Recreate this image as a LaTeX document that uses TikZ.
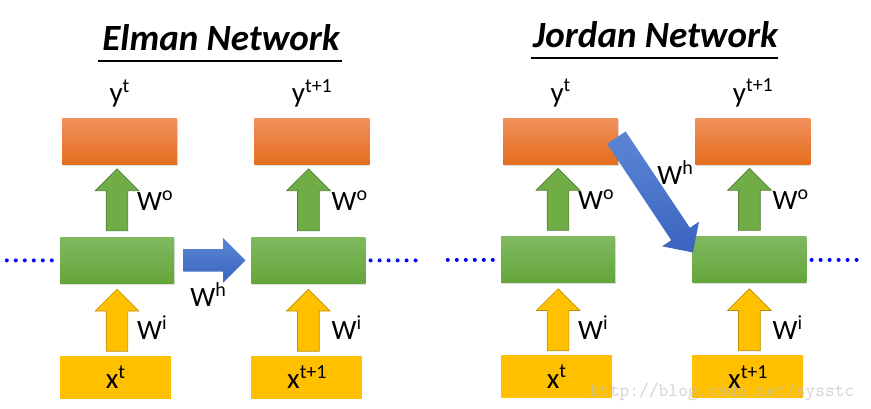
\documentclass[tikz,border=0pt]{standalone}
\usepackage{fontspec}
\setmainfont{Carlito}
\usepackage{tikz}
\usetikzlibrary{positioning}
\usetikzlibrary{calc}
\usetikzlibrary{shapes.arrows}
\usetikzlibrary{shadows}

\definecolor{otop}{RGB}{241,145,92}
\definecolor{obot}{RGB}{228,108,28}
\definecolor{gtop}{RGB}{128,185,96}
\definecolor{gbot}{RGB}{100,165,58}
\definecolor{gold}{RGB}{255,192,0}
\definecolor{golddark}{RGB}{190,142,0}
\definecolor{gfill}{RGB}{112,173,71}
\definecolor{gdark}{RGB}{80,126,50}
\definecolor{btop}{RGB}{92,134,212}
\definecolor{bbot}{RGB}{58,100,190}

\newcommand{\upidx}[1]{\raisebox{0.36em}{\fontsize{20}{20}\selectfont #1}}

\tikzstyle{obox} = [rectangle, minimum width = 115pt, minimum height = 46pt, top color = otop, bottom color = obot, drop shadow = {shadow xshift = 1pt, shadow yshift = -1.5pt, opacity = 0.25}]
\tikzstyle{hbox} = [rectangle, minimum width = 114pt, minimum height = 46pt, top color = gtop, bottom color = gbot, drop shadow = {shadow xshift = 1pt, shadow yshift = -1.5pt, opacity = 0.25}]
\tikzstyle{xbox} = [rectangle, minimum width = 111pt, minimum height = 43pt, fill = gold, font = \fontsize{29}{29}\selectfont]
\tikzstyle{garrow} = [single arrow, inner xsep = 0pt, inner ysep = 10.5pt, single arrow head extend = 11pt, single arrow head indent = 0pt, fill = gfill, draw = gdark, line width = 0.7pt]
\tikzstyle{yarrow} = [single arrow, inner xsep = 0pt, inner ysep = 10.5pt, single arrow head extend = 11pt, single arrow head indent = 0pt, fill = gold, draw = golddark, line width = 0.7pt]
\tikzstyle{harrow} = [single arrow, inner xsep = 0pt, inner ysep = 11pt, single arrow head extend = 11pt, single arrow head indent = 0pt, top color = btop, bottom color = bbot]
\tikzstyle{lbl} = [inner sep = 0pt, font = \fontsize{29}{29}\selectfont]
\tikzstyle{wlbl} = [inner sep = 0pt, font = \fontsize{28}{28}\selectfont]
\tikzstyle{ttl} = [inner sep = 0pt, font = \fontsize{37}{37}\selectfont\bfseries\itshape]
\tikzstyle{uline} = [line width = 1.8pt]
\tikzstyle{dots} = [blue, line width = 4pt, line cap = round, dash pattern = on 0pt off 9pt]

\begin{document}
\begin{tikzpicture}[x = 1pt, y = -1pt]
	\useasboundingbox (0,0) rectangle (871,409);

	% Elman network
	\node[ttl, anchor = base] (te) at (221,51) {Elman Network};
	\draw[uline] ($(te.base west)+(-4,10)$) -- ($(te.base east)+(2,10)$);

	\node[obox] (ye1) at (119.5,142) {};
	\node[hbox, below = 72pt of ye1, xshift = -2.5pt] (he1) {};
	\node[xbox, below = 72pt of he1, xshift = -1.5pt] (xe1) {x\upidx{t}};
	\node[obox, right = 77pt of ye1] (ye2) {};
	\node[hbox, right = 77pt of he1] (he2) {};
	\node[xbox, right = 80pt of xe1] (xe2) {x\upidx{t+1}};

	\node[lbl, above = 16pt of ye1, anchor = base] (lye1) {y\upidx{t}};
	\node[lbl, above = 16pt of ye2, anchor = base] (lye2) {y\upidx{t+1}};

	% Arrows between layers
	\path (he1.north) -- (he1.north |- ye1.south) node[garrow, pos = 0.0833, anchor = tail, sloped, minimum height = 62pt] (woe1) {};
	\path (he2.north) -- (he2.north |- ye2.south) node[garrow, pos = 0.0833, anchor = tail, sloped, minimum height = 62pt] (woe2) {};
	\path (he1.south |- xe1.north) -- (he1.south) node[yarrow, pos = 0.0556, anchor = tail, sloped, minimum height = 62pt] (wie1) {};
	\path (he2.south |- xe2.north) -- (he2.south) node[yarrow, pos = 0.0556, anchor = tail, sloped, minimum height = 62pt] (wie2) {};
	\path (he1.east) -- (he2.west) node[harrow, pos = 0.117, anchor = tail, sloped, minimum height = 62pt] (whe) {};

	\node[wlbl, anchor = base west] (lwoe1) at ($(he1.north)+(20,-27)$) {W\upidx{o}};
	\node[wlbl, anchor = base west] (lwoe2) at ($(he2.north)+(23,-27)$) {W\upidx{o}};
	\node[wlbl, anchor = base west] (lwie1) at ($(xe1.north)+(21.5,-16)$) {W\upidx{i}};
	\node[wlbl, anchor = base west] (lwie2) at ($(xe2.north)+(24.5,-16)$) {W\upidx{i}};
	\node[wlbl, anchor = base west] (lwhe) at ($(he1.south east)+(16,23)$) {W\upidx{h}};

	% Dots
	\coordinate[left = 8pt of he1] (dle1);
	\coordinate[left = 45.5pt of dle1] (dle0);
	\draw[dots] (dle1) -- (dle0);
	\coordinate[right = 5pt of he2] (dre1);
	\coordinate[right = 45.5pt of dre1] (dre2);
	\draw[dots] (dre1) -- (dre2);

	% Jordan network
	\node[ttl, anchor = base] (tj) at (655.5,48) {Jordan Network};
	\draw[uline] ($(tj.base west)+(-2,10)$) -- ($(tj.base east)+(0,10)$);

	\node[obox] (yj1) at (560.5,141.5) {};
	\node[hbox, below = 72pt of yj1, xshift = -2.5pt] (hj1) {};
	\node[xbox, below = 72pt of hj1, xshift = -1.5pt] (xj1) {x\upidx{t}};
	\node[obox, right = 77pt of yj1] (yj2) {};
	\node[hbox, right = 77pt of hj1] (hj2) {};
	\node[xbox, right = 80pt of xj1] (xj2) {x\upidx{t+1}};

	\node[lbl, above = 16pt of yj1, anchor = base] (lyj1) {y\upidx{t}};
	\node[lbl, above = 16pt of yj2, anchor = base] (lyj2) {y\upidx{t+1}};

	% Arrows between layers
	\path (hj1.north) -- (hj1.north |- yj1.south) node[garrow, pos = 0.0833, anchor = tail, sloped, minimum height = 62pt] (woj1) {};
	\path (hj2.north) -- (hj2.north |- yj2.south) node[garrow, pos = 0.0833, anchor = tail, sloped, minimum height = 62pt] (woj2) {};
	\path (hj1.south |- xj1.north) -- (hj1.south) node[yarrow, pos = 0.0556, anchor = tail, sloped, minimum height = 62pt] (wij1) {};
	\path (hj2.south |- xj2.north) -- (hj2.south) node[yarrow, pos = 0.0556, anchor = tail, sloped, minimum height = 62pt] (wij2) {};
	\path ($(yj1.east)+(-2,-4)$) -- ($(hj2.west)+(1,-7)$) node[harrow, pos = 0, anchor = tail, sloped, minimum height = 138pt] (whj) {};

	\node[wlbl, anchor = base west] (lwoj1) at ($(hj1.north)+(20,-27)$) {W\upidx{o}};
	\node[wlbl, anchor = base west] (lwoj2) at ($(hj2.north)+(23,-27)$) {W\upidx{o}};
	\node[wlbl, anchor = base west] (lwij1) at ($(xj1.north)+(21.5,-16)$) {W\upidx{i}};
	\node[wlbl, anchor = base west] (lwij2) at ($(xj2.north)+(24.5,-16)$) {W\upidx{i}};
	\node[wlbl, anchor = base west] (lwhj) at ($(yj1.south east)+(39,20)$) {W\upidx{h}};

	% Dots
	\coordinate[left = 8pt of hj1] (dlj1);
	\coordinate[left = 45.5pt of dlj1] (dlj0);
	\draw[dots] (dlj1) -- (dlj0);
	\coordinate[right = 5pt of hj2] (drj1);
	\coordinate[right = 45.5pt of drj1] (drj2);
	\draw[dots] (drj1) -- (drj2);

	% Watermark
	\node[anchor = base west, inner sep = 0pt, text = black!25, opacity = 0.7, font = \fontsize{19}{19}\selectfont\ttfamily] (wm) at (590,396) {http://blog.csdn.net/sysstc};

\end{tikzpicture}
\end{document}
